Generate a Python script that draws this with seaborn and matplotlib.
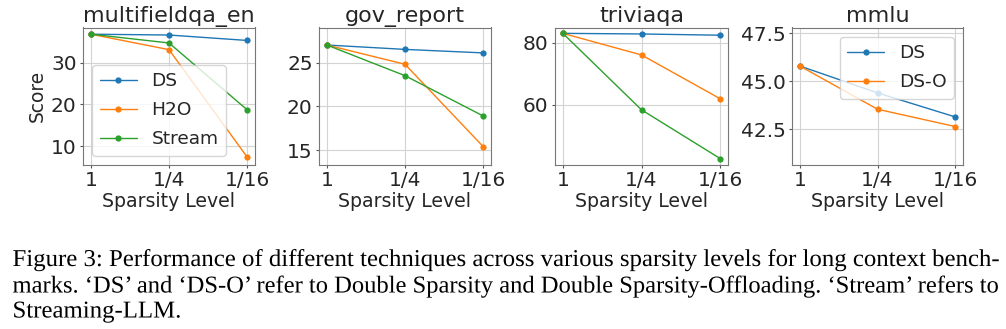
import matplotlib
matplotlib.use("Agg")
import matplotlib.pyplot as plt
from matplotlib import patheffects
from matplotlib.transforms import Affine2D
import seaborn as sns
import pandas as pd

# ---- data ----
sparsity_labels = ["1", "1/4", "1/16"]

mfqa_ds = [36.8, 36.6, 35.3]
mfqa_h2o = [36.8, 33.1, 7.4]
mfqa_stream = [36.8, 34.7, 18.7]

gov_ds = [27.0, 26.5, 26.1]
gov_h2o = [27.0, 24.8, 15.4]
gov_stream = [27.0, 23.5, 18.9]

trivia_ds = [83.1, 82.9, 82.5]
trivia_h2o = [83.1, 76.1, 61.9]
trivia_stream = [83.1, 58.3, 42.5]

mmlu_ds = [45.8, 44.4, 43.15]
mmlu_dso = [45.8, 43.55, 42.65]

titles = ["multifieldqa_en", "gov_report", "triviaqa", "mmlu"]
yticks_list = [[10, 20, 30], [15, 20, 25], [60, 80], [42.5, 45.0, 47.5]]
ylims = [(5.5, 38.4), (13.3, 29.0), (40.4, 85.0), (40.65, 47.8)]

caption_lines = [
    "Figure 3: Performance of different techniques across various sparsity levels for long context bench-",
    "marks. \u2018DS\u2019 and \u2018DS-O\u2019 refer to Double Sparsity and Double Sparsity-Offloading. \u2018Stream\u2019 refers to",
    "Streaming-LLM.",
]

panels = [
    {"DS": mfqa_ds, "H2O": mfqa_h2o, "Stream": mfqa_stream},
    {"DS": gov_ds, "H2O": gov_h2o, "Stream": gov_stream},
    {"DS": trivia_ds, "H2O": trivia_h2o, "Stream": trivia_stream},
    {"DS": mmlu_ds, "DS-O": mmlu_dso},
]

palette = {"DS": "#1f77b4", "H2O": "#ff7f0e", "Stream": "#2ca02c", "DS-O": "#ff7f0e"}

sns.set_theme(style="ticks")
plt.rcParams["font.family"] = ["DejaVu Sans"]

W, H = 1006, 329
fig = plt.figure(figsize=(W / 100, H / 100), dpi=100)

# axes boxes in pixels: left, top, right, bottom
boxes = [(83, 27.5, 255, 165), (319, 27.5, 491, 165), (555, 27.5, 728, 165), (792, 27.5, 963, 165)]

for i, (panel, box) in enumerate(zip(panels, boxes)):
    l, t, r, b = box
    ax = fig.add_axes([l / W, 1 - b / H, (r - l) / W, (b - t) / H])
    rows = []
    for name, vals in panel.items():
        for j, v in enumerate(vals):
            rows.append({"pos": j, "score": v, "method": name})
    df = pd.DataFrame(rows)
    show_legend = i in (0, 3)
    sns.lineplot(data=df, x="pos", y="score", hue="method", palette=palette,
                 marker="o", markersize=4.5, markeredgewidth=0, linewidth=1.0,
                 ax=ax, legend=show_legend, sort=False)
    ax.set_xticks(range(len(sparsity_labels)))
    ax.set_xticklabels(sparsity_labels)
    ax.set_xlim(-0.1, 2.1)
    ax.set_ylim(*ylims[i])
    ax.set_yticks(yticks_list[i])
    if i == 3:
        ax.set_yticklabels([f"{v:.1f}" for v in yticks_list[i]])
    ax.grid(True, color="#d3d3d3", linewidth=0.8)
    ax.set_axisbelow(True)
    ax.tick_params(axis="both", labelsize=14.5, length=2.5, width=0.8, pad=2, color="#555555")
    for s in ax.spines.values():
        s.set_color("#777777")
        s.set_linewidth(0.8)
    ax.set_title(titles[i], fontsize=16, pad=4)
    ax.set_xlabel("Sparsity Level", fontsize=13.6, labelpad=1.5)
    if i == 0:
        ax.set_ylabel("Score", fontsize=13.4, labelpad=3)
    else:
        ax.set_ylabel("")
    if show_legend:
        loc = "lower left" if i == 0 else "upper right"
        sns.move_legend(ax, loc, title=None, fontsize=13.3, handlelength=2.0,
                        borderaxespad=0.5, labelspacing=0.6)


class HScale(patheffects.AbstractPathEffect):
    """Stretch the rendered glyphs horizontally about x0 (justification)."""

    def __init__(self, sx, x0):
        super().__init__()
        self.sx = sx
        self.x0 = x0

    def draw_path(self, renderer, gc, tpath, affine, rgbFace=None):
        t = affine + Affine2D().translate(-self.x0, 0).scale(self.sx, 1.0).translate(self.x0, 0)
        renderer.draw_path(gc, tpath, t, rgbFace)


# caption
cap_left = 12.5
cap_right = 999.0
baselines = [266.0, 292.5, 317.5]
fs = 17.4
cap_texts = []
for line, yb in zip(caption_lines, baselines):
    tx = fig.text(cap_left / W, 1 - yb / H, line, fontsize=fs, family="Liberation Serif",
                  ha="left", va="baseline", color="black")
    cap_texts.append(tx)

fig.canvas.draw()
renderer = fig.canvas.get_renderer()
target = cap_right - cap_left
scales = []
for k, tx in enumerate(cap_texts[:2]):
    w = tx.get_window_extent(renderer).width
    scales.append(target / w)
scales.append(scales[0])
x0 = cap_left * fig.dpi / 100.0
for tx, sx in zip(cap_texts, scales):
    tx.set_path_effects([HScale(sx, x0)])

fig.savefig("out.png", dpi=100)
